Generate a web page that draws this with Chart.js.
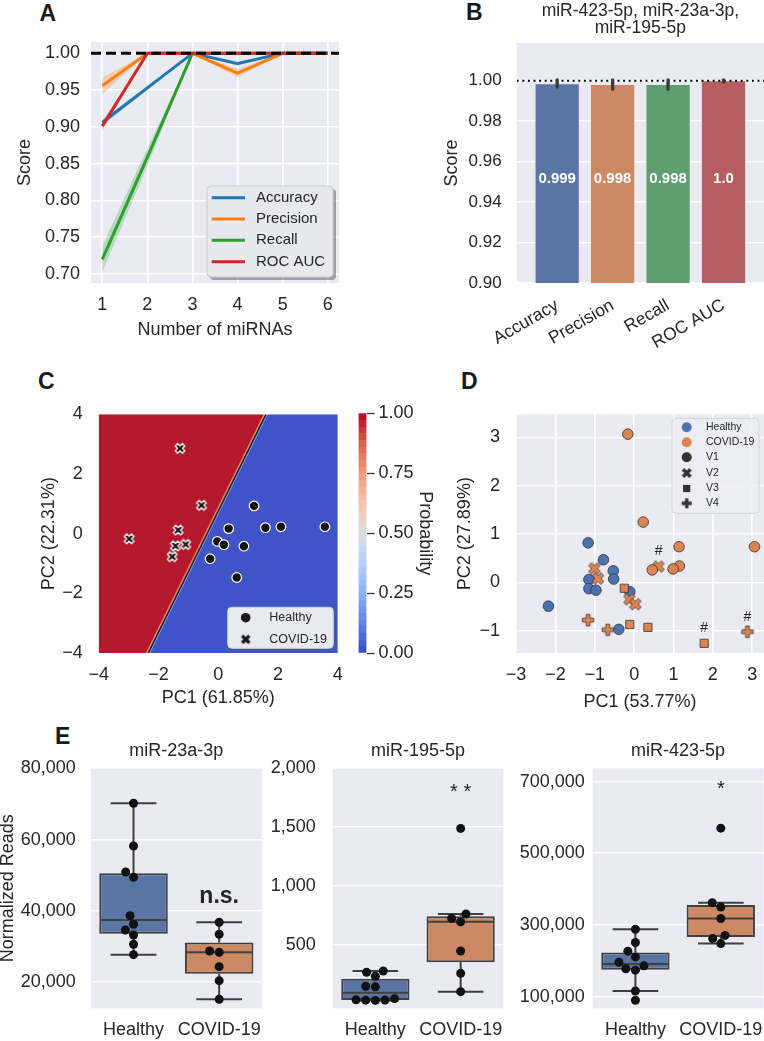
<!DOCTYPE html>
<html>
<head>
<meta charset="utf-8">
<script src="https://cdn.jsdelivr.net/npm/chart.js"></script>
<style>
  html, body { margin:0; padding:0; background:#ffffff; }
  #fig { position:relative; width:764px; height:1041px; overflow:hidden; background:#ffffff; }
  #fig canvas { position:absolute; }
  .plabel { position:absolute; font-family:'Liberation Sans', Arial, sans-serif; font-weight:bold; font-size:23px; line-height:23px; color:#1a1a1a; }
</style>
</head>
<body>
<div id="fig">
  <div class="plabel" style="left:39.5px;top:2px">A</div>
  <div class="plabel" style="left:466px;top:0.5px">B</div>
  <div class="plabel" style="left:38px;top:370px">C</div>
  <div class="plabel" style="left:461px;top:370px">D</div>
  <div class="plabel" style="left:55px;top:725px">E</div>
</div>
<script>
// ================= DATA =================
// Panel A: score vs number of miRNAs (mean and confidence band)
const nMiRNAs = [1, 2, 3, 4, 5, 6];
const accuracyMean  = [0.906, 0.953, 1.000, 0.986, 1.000, 1.000];
const accuracyLow   = [0.902, 0.950, 1.000, 0.983, 1.000, 1.000];
const accuracyHigh  = [0.910, 0.956, 1.000, 0.989, 1.000, 1.000];
const precisionMean = [0.956, 1.000, 1.000, 0.973, 1.000, 1.000];
const precisionLow  = [0.944, 1.000, 1.000, 0.967, 1.000, 1.000];
const precisionHigh = [0.967, 1.000, 1.000, 0.979, 1.000, 1.000];
const recallMean    = [0.720, 0.859, 1.000, 1.000, 1.000, 1.000];
const recallLow     = [0.702, 0.847, 1.000, 1.000, 1.000, 1.000];
const recallHigh    = [0.738, 0.871, 1.000, 1.000, 1.000, 1.000];
const rocAucMean    = [0.901, 1.000, 1.000, 1.000, 1.000, 1.000];
const rocAucLow     = [0.895, 1.000, 1.000, 1.000, 1.000, 1.000];
const rocAucHigh    = [0.907, 1.000, 1.000, 1.000, 1.000, 1.000];
const scoreTicksA   = [0.70, 0.75, 0.80, 0.85, 0.90, 0.95, 1.00];

// Panel B: three-miRNA model scores
const metricNames  = ['Accuracy', 'Precision', 'Recall', 'ROC AUC'];
const metricScores = [0.9982, 0.9978, 0.9979, 0.9997];
const metricErrLow = [0.9968, 0.9958, 0.9958, 0.9993];
const metricErrHigh= [1.0003, 1.0003, 1.0003, 1.0004];
const metricLabels = ['0.999', '0.998', '0.998', '1.0'];
const scoreTicksB  = [0.90, 0.92, 0.94, 0.96, 0.98, 1.00];

// Panel C: PCA with decision surface
const cHealthyPC1 = [1.20, 0.35, 1.58, 2.10, 3.57, -0.03, 0.19, 0.86, -0.27, 0.62];
const cHealthyPC2 = [0.93, 0.17, 0.20, 0.23, 0.23, -0.26, -0.37, -0.42, -0.84, -1.47];
const cCovidPC1   = [-1.28, -0.56, -1.34, -2.98, -1.43, -1.09, -1.54];
const cCovidPC2   = [2.86, 0.95, 0.12, -0.17, -0.41, -0.36, -0.77];
const boundaryPC1 = [-2.34, 1.60];   // PC1 of the 0.5 contour at PC2 = -4 and PC2 = 4
const boundaryPC2 = [-4, 4];
const pcTicksC    = [-4, -2, 0, 2, 4];
const probTicks   = [0, 0.25, 0.5, 0.75, 1];

// Panel D: PCA by visit
const dHealthyPC1 = [-2.18, -1.17, -0.78, -0.53, -0.52, -1.15, -1.15, -0.97, -0.11, -0.39];
const dHealthyPC2 = [-0.49, 0.82, 0.47, 0.24, 0.07, 0.06, -0.13, -0.16, -0.19, -0.97];
const dCovidV1PC1 = [-0.16, 0.23, 1.14, 3.06, 0.46, 1.15, 0.99];
const dCovidV1PC2 = [3.07, 1.25, 0.74, 0.74, 0.26, 0.34, 0.28];
const dCovidV2PC1 = [-1.01, -0.92, 0.62, -0.12, 0.03];
const dCovidV2PC2 = [0.29, 0.08, 0.33, -0.35, -0.45];
const dCovidV3PC1 = [-0.25, -0.11, 0.35, 1.78];
const dCovidV3PC2 = [-0.12, -0.87, -0.93, -1.26];
const dCovidV4PC1 = [-1.17, -0.67, 2.88];
const dCovidV4PC2 = [-0.78, -0.98, -1.02];
const markedPC1   = [0.62, 1.78, 2.88];   // samples flagged with '#'
const markedPC2   = [0.33, -1.26, -1.02];
const pcTicksDx   = [-3, -2, -1, 0, 1, 2, 3];
const pcTicksDy   = [-1, 0, 1, 2, 3];

// Panel E: normalized reads
const groupNames   = ['Healthy', 'COVID-19'];
const mir23aHealthy = [70200, 58200, 50900, 49400, 38650, 36240, 34640, 33240, 30630, 27710];
const mir23aCovid   = [36800, 33440, 28750, 28390, 24350, 20420, 15200];
const mir195Healthy = [280, 268, 235, 150, 145, 45, 35, 33, 32, 30];
const mir195Covid   = [1490, 763, 726, 698, 449, 260, 104];
const mir423Healthy = [288000, 251000, 227000, 211000, 196000, 186000, 178000, 174000, 116000, 90000];
const mir423Covid   = [570000, 362000, 350000, 318000, 271000, 262000, 248000];
const ticks23a = [20000, 40000, 60000, 80000];
const ticks195 = [500, 1000, 1500, 2000];
const ticks423 = [100000, 300000, 500000, 700000];

// ================= SETUP =================
const FONT = "'Liberation Sans', Arial, Helvetica, sans-serif";
Chart.defaults.font.family = FONT;
Chart.defaults.color = '#262626';
Chart.defaults.animation = false;
Chart.defaults.events = [];
Chart.defaults.plugins.legend.display = false;
Chart.defaults.plugins.tooltip.enabled = false;
const TXT = '#262626', BG = '#eaeaf2';
const fig = document.getElementById('fig');

function makeCanvas(rect, geo) {
  const left = Math.floor(rect.L - (geo.yw || 0) - (geo.l || 0));
  const top = Math.floor(rect.T - (geo.th || 0) - (geo.t || 0));
  const right = Math.ceil(rect.R + (geo.yr || 0) + (geo.r || 0));
  const bottom = Math.ceil(rect.B + (geo.xh || 0) + (geo.b || 0));
  const c = document.createElement('canvas');
  c.width = right - left; c.height = bottom - top;
  c.style.left = left + 'px'; c.style.top = top + 'px';
  c.style.width = c.width + 'px'; c.style.height = c.height + 'px';
  fig.appendChild(c);
  const padding = {
    left: rect.L - (geo.yw || 0) - left,
    top: rect.T - (geo.th || 0) - top,
    right: right - rect.R - (geo.yr || 0),
    bottom: bottom - rect.B - (geo.xh || 0)
  };
  return { canvas: c, padding, left, top };
}
function zeroPad(s) { s.paddingLeft = 0; s.paddingRight = 0; s.paddingTop = 0; s.paddingBottom = 0; }
function axis(o) {
  return {
    type: 'linear', min: o.min, max: o.max, position: o.pos, bounds: 'data', offset: false,
    display: o.display !== false,
    grid: { display: !!o.grid, color: '#ffffff', lineWidth: o.gw || 1.6, drawTicks: false, offset: false },
    border: { display: false },
    ticks: { padding: o.pad, font: { size: o.fs || 18 }, color: TXT, autoSkip: false,
             maxRotation: o.rot || 0, minRotation: o.rot || 0, callback: o.fmt },
    afterBuildTicks: s => { s.ticks = o.ticks.map(v => ({ value: v })); },
    afterFit: s => { if (o.size != null) { if (s.isHorizontal()) s.height = o.size; else s.width = o.size; } zeroPad(s); },
    title: o.title ? { display: true, text: o.title, font: { size: o.tfs || 18 }, padding: 0, color: TXT } : { display: false }
  };
}
const minus = v => String(v).replace('-', '\u2212');

function bgPlugin(color) {
  return { id: 'bg', beforeDraw(chart) {
    const a = chart.chartArea, ctx = chart.ctx;
    ctx.save(); ctx.fillStyle = color; ctx.fillRect(a.left, a.top, a.right - a.left, a.bottom - a.top); ctx.restore();
  }};
}
function pagePlugin(fn) {
  return { id: 'page_' + Math.random().toString(36).slice(2), afterDraw(chart) {
    const ctx = chart.ctx; ctx.save();
    ctx.translate(-parseFloat(chart.canvas.style.left), -parseFloat(chart.canvas.style.top));
    fn(ctx, chart); ctx.restore();
  }};
}
function roundRect(ctx, x, y, w, h, r) {
  ctx.beginPath(); ctx.moveTo(x + r, y);
  ctx.arcTo(x + w, y, x + w, y + h, r); ctx.arcTo(x + w, y + h, x, y + h, r);
  ctx.arcTo(x, y + h, x, y, r); ctx.arcTo(x, y, x + w, y, r); ctx.closePath();
}
function polyMarker(pts, size, fill, stroke, lw) {
  const pad = Math.ceil(lw || 0) + 1;
  const dim = Math.ceil(size) + 2 * pad;
  const c = document.createElement('canvas'); c.width = dim; c.height = dim;
  const g = c.getContext('2d'); g.translate(dim / 2, dim / 2);
  g.beginPath();
  pts.forEach(([x, y], i) => i ? g.lineTo(x * size, -y * size) : g.moveTo(x * size, -y * size));
  g.closePath(); g.fillStyle = fill; g.fill();
  if (lw) { g.lineWidth = lw; g.strokeStyle = stroke; g.lineJoin = 'miter'; g.stroke(); }
  return c;
}
const X_PATH = [[-1,-2],[0,-1],[1,-2],[2,-1],[1,0],[2,1],[1,2],[0,1],[-1,2],[-2,1],[-1,0],[-2,-1]].map(([x,y]) => [x/4, y/4]);
const P_PATH = [[-1,-3],[-1,-1],[-3,-1],[-3,1],[-1,1],[-1,3],[1,3],[1,1],[3,1],[3,-1],[1,-1],[1,-3]].map(([x,y]) => [x/6, y/6]);
function drawLegendBox(ctx, b) {
  ctx.save();
  if (b.shadow) { ctx.fillStyle = 'rgba(0,0,0,0.32)'; roundRect(ctx, b.x + b.shadow, b.y + b.shadow, b.w, b.h, 4); ctx.fill(); }
  ctx.fillStyle = b.fill; roundRect(ctx, b.x, b.y, b.w, b.h, 4); ctx.fill();
  ctx.lineWidth = 1; ctx.strokeStyle = b.stroke; ctx.stroke();
  ctx.font = b.font; ctx.fillStyle = TXT; ctx.textBaseline = 'middle'; ctx.textAlign = 'left';
  b.items.forEach((it, i) => {
    const y = b.rows[i];
    if (it.kind === 'line') {
      ctx.strokeStyle = it.color; ctx.lineWidth = 3; ctx.beginPath(); ctx.moveTo(b.mx0, y); ctx.lineTo(b.mx1, y); ctx.stroke();
    } else if (it.kind === 'circle') {
      ctx.beginPath(); ctx.arc(b.mx, y, it.r, 0, Math.PI * 2); ctx.fillStyle = it.color; ctx.fill();
    } else if (it.kind === 'square') {
      ctx.fillStyle = it.color; ctx.fillRect(b.mx - it.s / 2, y - it.s / 2, it.s, it.s);
    } else if (it.kind === 'img') {
      ctx.drawImage(it.img, b.mx - it.img.width / 2, y - it.img.height / 2);
    }
    ctx.fillStyle = TXT; ctx.fillText(it.label, b.tx, y);
  });
  ctx.restore();
}
const baseOpts = (padding) => ({ responsive: false, maintainAspectRatio: false, devicePixelRatio: 1,
  layout: { padding, autoPadding: false } });

// ================= PANEL A =================
(function () {
  const rect = { L: 91, T: 42, R: 339, B: 283 };
  const { canvas, padding } = makeCanvas(rect, { yw: 77.1, xh: 57.8, r: 4 });
  const pts = arr => nMiRNAs.map((x, i) => ({ x, y: arr[i] }));
  const series = [
    { name: 'Accuracy',  mean: accuracyMean,  lo: accuracyLow,  hi: accuracyHigh,  color: '#1f77b4', band: 'rgba(31,119,180,0.25)' },
    { name: 'Precision', mean: precisionMean, lo: precisionLow, hi: precisionHigh, color: '#ff7f0e', band: 'rgba(255,127,14,0.25)' },
    { name: 'Recall',    mean: recallMean,    lo: recallLow,    hi: recallHigh,    color: '#2ca02c', band: 'rgba(44,160,44,0.25)' },
    { name: 'ROC AUC',   mean: rocAucMean,    lo: rocAucLow,    hi: rocAucHigh,    color: '#d62728', band: 'rgba(214,39,40,0.25)' }
  ];
  const datasets = [];
  series.forEach((s, k) => {
    datasets.push({ type: 'line', data: pts(s.lo), borderWidth: 0, pointRadius: 0, fill: false, order: 40 - 2 * k });
    datasets.push({ type: 'line', data: pts(s.hi), borderWidth: 0, pointRadius: 0, fill: '-1', backgroundColor: s.band, order: 39 - 2 * k });
  });
  series.forEach((s, k) => {
    datasets.push({ type: 'line', label: s.name, data: pts(s.mean), borderColor: s.color, borderWidth: 3,
      pointRadius: 0, fill: false, borderJoinStyle: 'round', order: 10 - k });
  });
  datasets.push({ type: 'line', data: [{ x: 0.75, y: 1 }, { x: 6.25, y: 1 }], borderColor: '#000000', borderWidth: 3,
    borderDash: [10, 5], pointRadius: 0, fill: false, order: 0 });
  new Chart(canvas, {
    type: 'line', data: { datasets },
    options: Object.assign(baseOpts(padding), {
      scales: {
        x: axis({ min: 0.75, max: 6.25, ticks: nMiRNAs, pad: 11.6, grid: true, size: 57.8, title: 'Number of miRNAs', fmt: v => String(v) }),
        y: axis({ min: 0.6878, max: 1.0154, ticks: scoreTicksA, pad: 11, grid: true, size: 77.1, title: 'Score', fmt: v => v.toFixed(2) })
      }
    }),
    plugins: [bgPlugin(BG), pagePlugin(ctx => drawLegendBox(ctx, {
      x: 207, y: 186, w: 126, h: 91, shadow: 3, fill: '#e8e8ef', stroke: '#c9c9d0', font: '15px ' + FONT,
      mx0: 211.7, mx1: 245, tx: 256, rows: [197.7, 219, 240.3, 261.7],
      items: series.map(s => ({ kind: 'line', color: s.color, label: s.name }))
    }))]
  });
})();

// ================= PANEL B =================
(function () {
  const rect = { L: 516.7, T: 43, R: 764, B: 283 };
  const { canvas, padding } = makeCanvas(rect, { yw: 75, xh: 70, th: 43.5 });
  const barColors = ['#5975a4', '#cc8963', '#5f9e6e', '#b55d60'];
  new Chart(canvas, {
    type: 'bar',
    data: { datasets: [
      { type: 'bar', data: metricNames.map((n, i) => ({ x: i, y: metricScores[i] })), backgroundColor: barColors,
        barPercentage: 0.78, categoryPercentage: 1, borderWidth: 0, order: 2 },
      { type: 'line', data: [{ x: -0.73, y: 1 }, { x: 3.73, y: 1 }], borderColor: '#000000', borderWidth: 2,
        borderDash: [2, 3.6], pointRadius: 0, fill: false, order: 1 }
    ]},
    options: Object.assign(baseOpts(padding), {
      plugins: { title: { display: true, fullSize: false, text: ['miR-423-5p, miR-23a-3p,', 'miR-195-5p'],
        font: { size: 17.5, weight: 'normal', lineHeight: 1 }, color: TXT, padding: { top: 2.5, bottom: 6 } } },
      scales: {
        x: axis({ min: -0.73, max: 3.73, ticks: [0, 1, 2, 3], pad: 12, grid: false, size: 70, rot: 30, fs: 17.5, fmt: v => metricNames[v] }),
        y: axis({ min: 0.9, max: 1.0186, ticks: scoreTicksB, pad: 15, grid: true, size: 75, title: 'Score', fs: 17, fmt: v => v.toFixed(2) })
      }
    }),
    plugins: [bgPlugin(BG), { id: 'bErr', afterDatasetsDraw(chart) {
      const ctx = chart.ctx, xs = chart.scales.x, ys = chart.scales.y;
      ctx.save();
      ctx.strokeStyle = '#3c3c3c'; ctx.lineWidth = 3.4; ctx.lineCap = 'round';
      metricNames.forEach((n, i) => {
        const px = xs.getPixelForValue(i);
        ctx.beginPath(); ctx.moveTo(px, ys.getPixelForValue(metricErrLow[i])); ctx.lineTo(px, ys.getPixelForValue(metricErrHigh[i])); ctx.stroke();
      });
      ctx.font = 'bold 15px ' + FONT; ctx.fillStyle = '#ffffff'; ctx.textAlign = 'center'; ctx.textBaseline = 'middle';
      metricNames.forEach((n, i) => ctx.fillText(metricLabels[i], xs.getPixelForValue(i), ys.getPixelForValue(0.9515)));
      ctx.restore();
    }}]
  });
})();

// ================= PANEL C =================
const cRed = '#b5172c', cBlue = '#3f54c6';
(function () {
  const rect = { L: 98.7, T: 414.3, R: 337.7, B: 653 };
  const { canvas, padding } = makeCanvas(rect, { yw: 60.3, xh: 56.1, t: 12, r: 8 });
  const [xb, xt] = boundaryPC1, [yb, yt] = boundaryPC2;
  const xMark = polyMarker(X_PATH, 9.5, '#111111', '#ffffff', 1.3);
  new Chart(canvas, {
    type: 'line',
    data: { datasets: [
      { type: 'line', data: [{ x: -4.5, y: yb }, { x: xb, y: yb }, { x: xt, y: yt }], borderWidth: 0, pointRadius: 0, fill: 'end', backgroundColor: '#ec8a6e', order: 14 },
      { type: 'line', data: [{ x: xb, y: yb }, { x: xt, y: yt }, { x: 4.5, y: yt }], borderWidth: 0, pointRadius: 0, fill: 'start', backgroundColor: '#90aef2', order: 14 },
      { type: 'line', data: [{ x: -4.5, y: yb }, { x: xb - 0.08, y: yb }, { x: xt - 0.08, y: yt }], borderWidth: 0, pointRadius: 0, fill: 'end', backgroundColor: cRed, order: 12 },
      { type: 'line', data: [{ x: xb + 0.06, y: yb }, { x: xt + 0.06, y: yt }, { x: 4.5, y: yt }], borderWidth: 0, pointRadius: 0, fill: 'start', backgroundColor: cBlue, order: 12 },
      { type: 'line', data: [{ x: xb, y: yb }, { x: xt, y: yt }], borderColor: '#1a1a1a', borderWidth: 1.5, pointRadius: 0, fill: false, order: 5 },
      { type: 'scatter', label: 'COVID-19', data: cCovidPC1.map((x, i) => ({ x, y: cCovidPC2[i] })), pointStyle: xMark, pointRadius: 5, order: 1 },
      { type: 'scatter', label: 'Healthy', data: cHealthyPC1.map((x, i) => ({ x, y: cHealthyPC2[i] })), pointStyle: 'circle', pointRadius: 4.8,
        backgroundColor: '#111111', borderColor: '#ffffff', borderWidth: 1.2, order: 1 }
    ]},
    options: Object.assign(baseOpts(padding), {
      scales: {
        x: axis({ min: -4, max: 4, ticks: pcTicksC, pad: 11, grid: false, size: 56.1, title: 'PC1 (61.85%)', fmt: minus }),
        y: axis({ min: -4, max: 4, ticks: pcTicksC, pad: 16, grid: false, size: 60.3, title: 'PC2 (22.31%)', fmt: minus })
      }
    }),
    plugins: [pagePlugin(ctx => drawLegendBox(ctx, {
      x: 227.7, y: 607.3, w: 105.6, h: 41, fill: '#e9e9f0', stroke: '#cfcfd6', font: '12.5px ' + FONT,
      mx: 245.7, tx: 269.3, rows: [617.7, 639.3],
      items: [{ kind: 'circle', color: '#1a1a1a', r: 4.8, label: 'Healthy' },
              { kind: 'img', img: polyMarker(X_PATH, 9.5, '#1a1a1a', null, 0), label: 'COVID-19' }]
    }))]
  });
})();

// Colorbar for panel C (coolwarm colormap, drawn as contour-level bands)
const coolwarmStops = [[0, '#3b4cc0'], [0.125, '#6282ea'], [0.25, '#8db0fe'], [0.375, '#b8d0f9'], [0.5, '#dddddd'],
                       [0.625, '#f5c4ad'], [0.75, '#f49a7b'], [0.875, '#de604d'], [1, '#b40426']];
const colorbarBands = 36;
function coolwarmAt(t) {
  let k = 0; while (k < coolwarmStops.length - 2 && t > coolwarmStops[k + 1][0]) k++;
  const [p0, c0] = coolwarmStops[k], [p1, c1] = coolwarmStops[k + 1];
  const f = Math.min(Math.max((t - p0) / (p1 - p0), 0), 1);
  const h = c => [1, 3, 5].map(i => parseInt(c.slice(i, i + 2), 16));
  const a = h(c0), b = h(c1);
  return 'rgb(' + a.map((v, i) => Math.round(v + (b[i] - v) * f)).join(',') + ')';
}
(function () {
  const rect = { L: 358.5, T: 413.3, R: 366.5, B: 653 };
  const { canvas, padding } = makeCanvas(rect, { yw: 0, yr: 69.3, t: 12, b: 12 });
  new Chart(canvas, {
    type: 'bar',
    data: { datasets: [{ data: [{ x: 0, y: [0, 1] }], barPercentage: 1, categoryPercentage: 1, borderWidth: 0,
      backgroundColor: c => {
        const a = c.chart.chartArea; if (!a) return '#cccccc';
        const g = c.chart.ctx.createLinearGradient(0, a.bottom, 0, a.top);
        for (let k = 0; k < colorbarBands; k++) {
          const col = coolwarmAt((k + 0.5) / colorbarBands);
          g.addColorStop(k / colorbarBands, col); g.addColorStop((k + 1) / colorbarBands, col);
        }
        return g;
      } }] },
    options: Object.assign(baseOpts(padding), {
      scales: {
        x: { type: 'linear', display: false, min: -0.5, max: 0.5, offset: false, afterBuildTicks: s => { s.ticks = [{ value: 0 }]; } },
        y: { type: 'linear', position: 'right', min: 0, max: 1, bounds: 'data',
          grid: { display: true, drawOnChartArea: false, drawTicks: true, tickLength: 8, tickColor: '#333333', tickWidth: 1.3 },
          border: { display: false },
          ticks: { padding: 4, font: { size: 18 }, color: TXT, callback: v => v.toFixed(2) },
          afterBuildTicks: s => { s.ticks = probTicks.map(v => ({ value: v })); },
          afterFit: s => { s.width = 69.3; zeroPad(s); },
          title: { display: true, text: 'Probability', font: { size: 18 }, padding: 0, color: TXT } }
      }
    })
  });
})();

// ================= PANEL D =================
(function () {
  const rect = { L: 516.1, T: 414.3, R: 764, B: 653 };
  const { canvas, padding } = makeCanvas(rect, { yw: 61.9, xh: 59.5 });
  const blue = '#4c72b0', orange = '#dd8452', edge = '#333333';
  const xOr = polyMarker(X_PATH, 11.5, orange, edge, 0.8);
  const pOr = polyMarker(P_PATH, 11.5, orange, edge, 0.8);
  const pairs = (a, b) => a.map((x, i) => ({ x, y: b[i] }));
  new Chart(canvas, {
    type: 'line',
    data: { datasets: [
      { type: 'scatter', data: pairs(dHealthyPC1, dHealthyPC2), pointStyle: 'circle', pointRadius: 5.3, backgroundColor: blue, borderColor: edge, borderWidth: 0.8, order: 3 },
      { type: 'scatter', data: pairs(dCovidV1PC1, dCovidV1PC2), pointStyle: 'circle', pointRadius: 5.3, backgroundColor: orange, borderColor: edge, borderWidth: 0.8, order: 2 },
      { type: 'scatter', data: pairs(dCovidV2PC1, dCovidV2PC2), pointStyle: xOr, pointRadius: 5, order: 2 },
      { type: 'scatter', data: pairs(dCovidV3PC1, dCovidV3PC2), pointStyle: 'rect', pointRadius: 5.8, backgroundColor: orange, borderColor: edge, borderWidth: 0.8, order: 2 },
      { type: 'scatter', data: pairs(dCovidV4PC1, dCovidV4PC2), pointStyle: pOr, pointRadius: 5, order: 2 }
    ]},
    options: Object.assign(baseOpts(padding), {
      scales: {
        x: axis({ min: -3, max: 3.3, ticks: pcTicksDx, pad: 11, grid: true, size: 59.5, title: 'PC1 (53.77%)', fmt: minus }),
        y: axis({ min: -1.46, max: 3.48, ticks: pcTicksDy, pad: 16, grid: true, size: 61.9, title: 'PC2 (27.89%)', fmt: minus })
      }
    }),
    plugins: [bgPlugin(BG), { id: 'hash', afterDatasetsDraw(chart) {
      const ctx = chart.ctx, xs = chart.scales.x, ys = chart.scales.y;
      ctx.save(); ctx.font = '14px ' + FONT; ctx.fillStyle = TXT; ctx.textAlign = 'center'; ctx.textBaseline = 'middle';
      markedPC1.forEach((x, i) => ctx.fillText('#', xs.getPixelForValue(x), ys.getPixelForValue(markedPC2[i]) - 15));
      ctx.restore();
    }}, pagePlugin(ctx => drawLegendBox(ctx, {
      x: 672, y: 418.3, w: 87, h: 95, fill: 'rgba(236,236,243,0.85)', stroke: '#d3d3da', font: '10.5px ' + FONT,
      mx: 686.7, tx: 706, rows: [427.3, 442.3, 457.3, 473, 488.5, 503.3],
      items: [
        { kind: 'circle', color: blue, r: 5, label: 'Healthy' },
        { kind: 'circle', color: orange, r: 5, label: 'COVID-19' },
        { kind: 'circle', color: '#333333', r: 5, label: 'V1' },
        { kind: 'img', img: polyMarker(X_PATH, 10, '#333333', null, 0), label: 'V2' },
        { kind: 'square', color: '#333333', s: 7.2, label: 'V3' },
        { kind: 'img', img: polyMarker(P_PATH, 10, '#333333', null, 0), label: 'V4' }
      ]
    }))]
  });
})();

// ================= PANEL E =================
function pct(s, p) { const pos = (s.length - 1) * p, lo = Math.floor(pos), hi = Math.ceil(pos); return s[lo] + (s[hi] - s[lo]) * (pos - lo); }
function boxStats(vals) {
  const s = [...vals].sort((a, b) => a - b);
  const q1 = pct(s, 0.25), med = pct(s, 0.5), q3 = pct(s, 0.75), iqr = q3 - q1;
  return { q1, med, q3, lo: Math.min(...s.filter(v => v >= q1 - 1.5 * iqr)), hi: Math.max(...s.filter(v => v <= q3 + 1.5 * iqr)) };
}
function swarmOffsets(values, pxPerY, d) {
  const idx = values.map((v, i) => i).sort((a, b) => values[a] - values[b]);
  const placed = [], out = new Array(values.length).fill(0);
  for (const i of idx) {
    const y = values[i] * pxPerY;
    const nb = placed.filter(p => Math.abs(p.y - y) < d);
    const cands = [0];
    nb.forEach(p => { const dx = Math.sqrt(Math.max(d * d - (y - p.y) ** 2, 0)) * 1.05; cands.push(p.x - dx, p.x + dx); });
    const order = cands.map((c, k) => k).sort((a, b) => (Math.abs(cands[a]) - Math.abs(cands[b])) || (a - b));
    let chosen = 0;
    for (const k of order) {
      const cx = cands[k];
      if (nb.every(p => (p.x - cx) ** 2 + (p.y - y) ** 2 >= d * d * 0.999)) { chosen = cx; break; }
    }
    placed.push({ x: chosen, y }); out[i] = chosen;
  }
  return out;
}
function boxChart(cfg) {
  const rect = cfg.rect;
  const { canvas, padding } = makeCanvas(rect, { yw: cfg.yw, xh: 1041 - rect.B, th: 28 });
  const groups = [cfg.healthy, cfg.covid];
  const stats = groups.map(boxStats);
  const pxPerY = (rect.B - rect.T) / (cfg.ymax - cfg.ymin), pxPerX = (rect.R - rect.L) / 2;
  const pts = [];
  groups.forEach((vals, g) => {
    const off = swarmOffsets(vals, pxPerY, 9.2);
    vals.forEach((v, i) => pts.push({ x: g + off[i] / pxPerX, y: v }));
  });
  new Chart(canvas, {
    type: 'bar',
    data: { datasets: [
      { type: 'bar', data: stats.map((s, g) => ({ x: g, y: [s.q1, s.q3] })), backgroundColor: ['#5975a4', '#cc8963'],
        borderColor: '#404040', borderWidth: 2, borderSkipped: false, barPercentage: 0.8, categoryPercentage: 1, order: 2 },
      { type: 'scatter', data: pts, pointStyle: 'circle', pointRadius: 4.5, backgroundColor: '#111111', borderWidth: 0, order: 1 }
    ]},
    options: Object.assign(baseOpts(padding), {
      plugins: { title: { display: true, fullSize: false, text: cfg.title, font: { size: 18, weight: 'normal' }, color: TXT, padding: { top: 0, bottom: 6.4 } } },
      scales: {
        x: axis({ min: -0.5, max: 1.5, ticks: [0, 1], pad: 10.9, grid: false, size: 1041 - rect.B, fmt: v => groupNames[v] }),
        y: axis({ min: cfg.ymin, max: cfg.ymax, ticks: cfg.ticks, pad: cfg.pad, grid: true, size: cfg.yw, title: cfg.yTitle, fmt: v => v.toLocaleString('en-US') })
      }
    }),
    plugins: [bgPlugin(BG), {
      id: 'whisk',
      afterDatasetDraw(chart, args) {
        if (args.index !== 0) return;
        const ctx = chart.ctx, xs = chart.scales.x, ys = chart.scales.y;
        ctx.save(); ctx.strokeStyle = '#404040'; ctx.lineWidth = 2; ctx.lineCap = 'butt';
        stats.forEach((s, g) => {
          const xc = xs.getPixelForValue(g), half = xs.getPixelForValue(g + 0.4) - xc - 1, cap = xs.getPixelForValue(g + 0.267) - xc;
          const line = (x1, y1, x2, y2) => { ctx.beginPath(); ctx.moveTo(x1, y1); ctx.lineTo(x2, y2); ctx.stroke(); };
          line(xc - half, ys.getPixelForValue(s.med), xc + half, ys.getPixelForValue(s.med));
          line(xc, ys.getPixelForValue(s.q3), xc, ys.getPixelForValue(s.hi));
          line(xc, ys.getPixelForValue(s.q1), xc, ys.getPixelForValue(s.lo));
          line(xc - cap, ys.getPixelForValue(s.hi), xc + cap, ys.getPixelForValue(s.hi));
          line(xc - cap, ys.getPixelForValue(s.lo), xc + cap, ys.getPixelForValue(s.lo));
        });
        ctx.restore();
      },
      afterDatasetsDraw(chart) {
        const ctx = chart.ctx, xs = chart.scales.x, ys = chart.scales.y;
        ctx.save(); ctx.fillStyle = TXT; ctx.textAlign = 'center'; ctx.textBaseline = 'middle';
        ctx.font = cfg.ann.font;
        ctx.fillText(cfg.ann.text, xs.getPixelForValue(1), ys.getPixelForValue(cfg.ann.y) + cfg.ann.dy);
        ctx.restore();
      }
    }]
  });
}
boxChart({ rect: { L: 90.7, T: 768.3, R: 262, B: 1008.3 }, yw: 93.2, pad: 15, ymin: 12660, ymax: 80000, ticks: ticks23a,
  healthy: mir23aHealthy, covid: mir23aCovid, title: 'miR-23a-3p', yTitle: 'Normalized Reads',
  ann: { text: 'n.s.', y: 43300, font: 'bold 23px ' + FONT, dy: -2 } });
boxChart({ rect: { L: 332.7, T: 768.3, R: 503.3, B: 1008.3 }, yw: 70, pad: 17, ymin: -37, ymax: 2000, ticks: ticks195,
  healthy: mir195Healthy, covid: mir195Covid, title: 'miR-195-5p', yTitle: null,
  ann: { text: '* *', y: 1830, font: '20px ' + FONT, dy: 4.5 } });
boxChart({ rect: { L: 592.7, T: 768.3, R: 763.5, B: 1008.3 }, yw: 90, pad: 8, ymin: 67600, ymax: 737000, ticks: ticks423,
  healthy: mir423Healthy, covid: mir423Covid, title: 'miR-423-5p', yTitle: null,
  ann: { text: '*', y: 690000, font: '20px ' + FONT, dy: 4.5 } });
</script>
</body>
</html>
